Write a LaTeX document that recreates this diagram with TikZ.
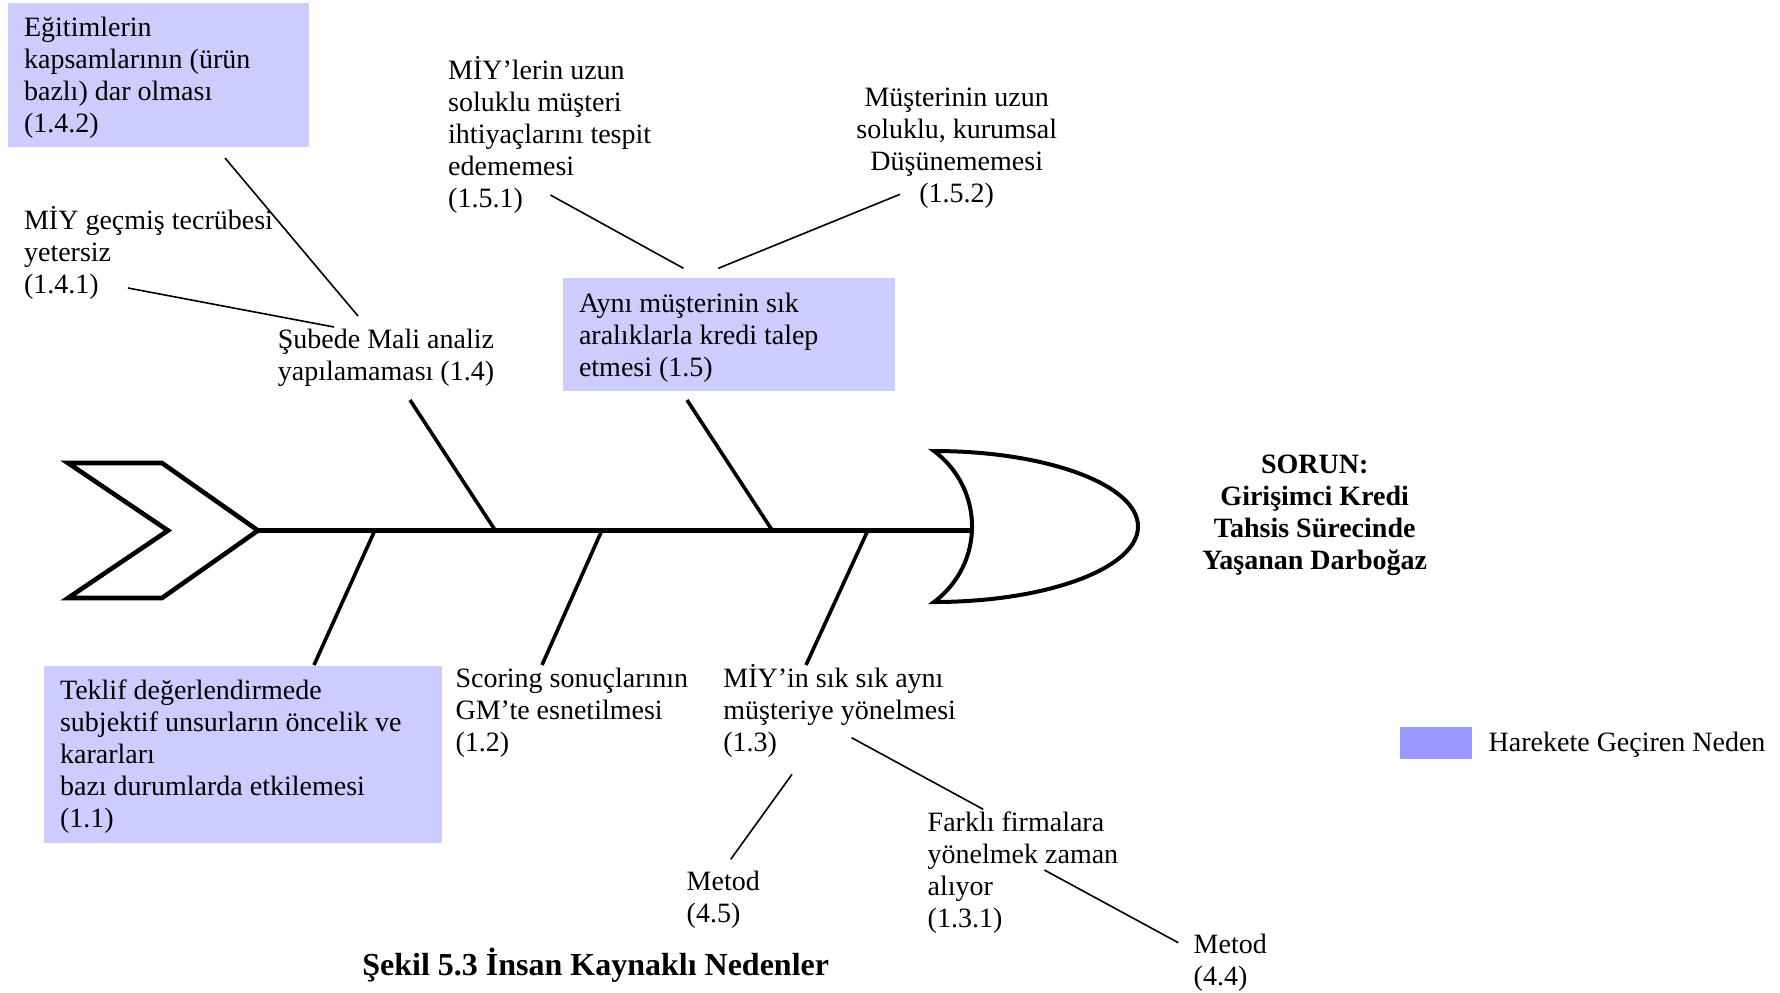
\documentclass[tikz,border=0pt]{standalone}
\usepackage{fontspec}
\setmainfont{Liberation Serif}
\definecolor{causefill}{RGB}{204,204,255}
\definecolor{legendfill}{RGB}{153,153,255}
% fixed first-line height, so every label's first baseline sits 12.5pt below its top
\newcommand{\firststrut}{\rule{0pt}{12.5pt}}
\begin{document}
\begin{tikzpicture}[x=0.5pt,y=-0.5pt,
  lbl/.style={anchor=north west, inner sep=0pt, align=left,
    font=\fontsize{14}{16}\selectfont},
  clbl/.style={lbl, anchor=north, align=center},
  causebox/.style={fill=causefill, draw=none, inner sep=0pt, anchor=north west},
  twig/.style={line width=0.8pt},
  bone/.style={line width=1.8pt},
  body/.style={line width=2.3pt, miter limit=20}]
\useasboundingbox (0,0) rectangle (1780,992);

% ---- fish tail, spine and head ----
\draw[body] (68,463) -- (162,463) -- (258,530.5) -- (162,598) -- (68,598)
  -- (168,530.5) -- cycle;
\coordinate (spineL) at (258,530.5);
\coordinate (spineR) at (972,530.5);
\draw[line width=2.2pt] (spineL) -- (spineR);
\draw[line width=2pt, miter limit=20] (934,451)
  .. controls (1046.7,451) and (1138,484.8) .. (1138,526.5)
  .. controls (1138,568.2) and (1046.7,602) .. (934,602)
  .. controls (984.7,564) and (984.7,489) .. cycle;

% ---- main bones ----
\coordinate (u1a) at (495,530); \coordinate (u1b) at (410,400);
\coordinate (u2a) at (772,530); \coordinate (u2b) at (687,400);
\coordinate (l1a) at (375,530); \coordinate (l1b) at (314,665);
\coordinate (l2a) at (602,530); \coordinate (l2b) at (542,665);
\coordinate (l3a) at (868,530); \coordinate (l3b) at (806,665);
\draw[bone] (u1a) -- (u1b);
\draw[bone] (u2a) -- (u2b);
\draw[bone] (l1a) -- (l1b);
\draw[bone] (l2a) -- (l2b);
\draw[bone] (l3a) -- (l3b);

% ---- highlighted cause boxes ----
\node[causebox, minimum width=150.5pt, minimum height=72pt] (b142) at (8,3) {};
\node[causebox, minimum width=165.75pt, minimum height=56.25pt] (b15) at (563,278) {};
\node[causebox, minimum width=199pt, minimum height=88.25pt] (b11) at (44,666) {};
\node[inner sep=0pt, anchor=north west, fill=legendfill, minimum width=36pt,
  minimum height=16pt] (leg) at (1400,726.5) {};

% ---- labels ----
\node[lbl] (t142) at (23.7,11) {\firststrut Eğitimlerin\\kapsamlarının (ürün\\bazlı) dar olması\\(1.4.2)};
\node[lbl] (t141) at (23.7,204.3) {\firststrut MİY geçmiş tecrübesi\\yetersiz\\(1.4.1)};
\node[lbl] (t14) at (277.5,323.3) {\firststrut Şubede Mali analiz\\yapılamaması (1.4)};
\node[lbl] (t151) at (447.8,54.3) {\firststrut MİY’lerin uzun\\soluklu müşteri\\ihtiyaçlarını tespit\\edememesi\\(1.5.1)};
\node[clbl] (t152) at (956.7,81) {\firststrut Müşterinin uzun\\soluklu, kurumsal\\Düşünememesi\\(1.5.2)};
\node[lbl] (t15) at (578.6,286.7) {\firststrut Aynı müşterinin sık\\aralıklarla kredi talep\\etmesi (1.5)};
\node[lbl] (t11) at (59.7,674) {\firststrut Teklif değerlendirmede\\subjektif unsurların öncelik ve\\kararları\\bazı durumlarda etkilemesi\\(1.1)};
\node[lbl] (t12) at (455.2,661.7) {\firststrut Scoring sonuçlarının\\GM’te esnetilmesi\\(1.2)};
\node[lbl] (t13) at (723,661.7) {\firststrut MİY’in sık sık aynı\\müşteriye yönelmesi\\(1.3)};
\node[lbl] (t45) at (686.3,865) {\firststrut Metod\\(4.5)};
\node[lbl] (t131) at (927.3,805.7) {\firststrut Farklı firmalara\\yönelmek zaman\\alıyor\\(1.3.1)};
\node[lbl] (t44) at (1193.3,927.7) {\firststrut Metod\\(4.4)};
\node[clbl, font=\bfseries\fontsize{14}{16}\selectfont] (prob) at (1314.7,448.3)
  {\firststrut SORUN:\\Girişimci Kredi\\Tahsis Sürecinde\\Yaşanan Darboğaz};
\node[lbl] (legt) at (1488.3,725.7) {\firststrut Harekete Geçiren Neden};
\node[inner sep=0pt, anchor=base, font=\bfseries\fontsize{16}{18}\selectfont]
  (cap) at (595.7,975.5) {Şekil 5.3 İnsan Kaynaklı Nedenler};

% ---- sub-cause connectors ----
\coordinate (c142a) at (225,158); \coordinate (c142b) at (358,316);
\coordinate (c141a) at (128,288); \coordinate (c141b) at (334,327);
\coordinate (c151a) at (550.4,195); \coordinate (c151b) at (683.5,268.3);
\coordinate (c152a) at (900,194.3); \coordinate (c152b) at (718.3,268.3);
\coordinate (c131a) at (851.6,737.7); \coordinate (c131b) at (983.2,809.3);
\coordinate (c45a) at (792,774.3); \coordinate (c45b) at (730.7,859.3);
\coordinate (c44a) at (1044.4,870); \coordinate (c44b) at (1178.3,942.7);
\draw[twig] (c142a) -- (c142b);
\draw[twig] (c141a) -- (c141b);
\draw[twig] (c151a) -- (c151b);
\draw[twig] (c152a) -- (c152b);
\draw[twig] (c131a) -- (c131b);
\draw[twig] (c45a) -- (c45b);
\draw[twig] (c44a) -- (c44b);
\end{tikzpicture}
\end{document}
